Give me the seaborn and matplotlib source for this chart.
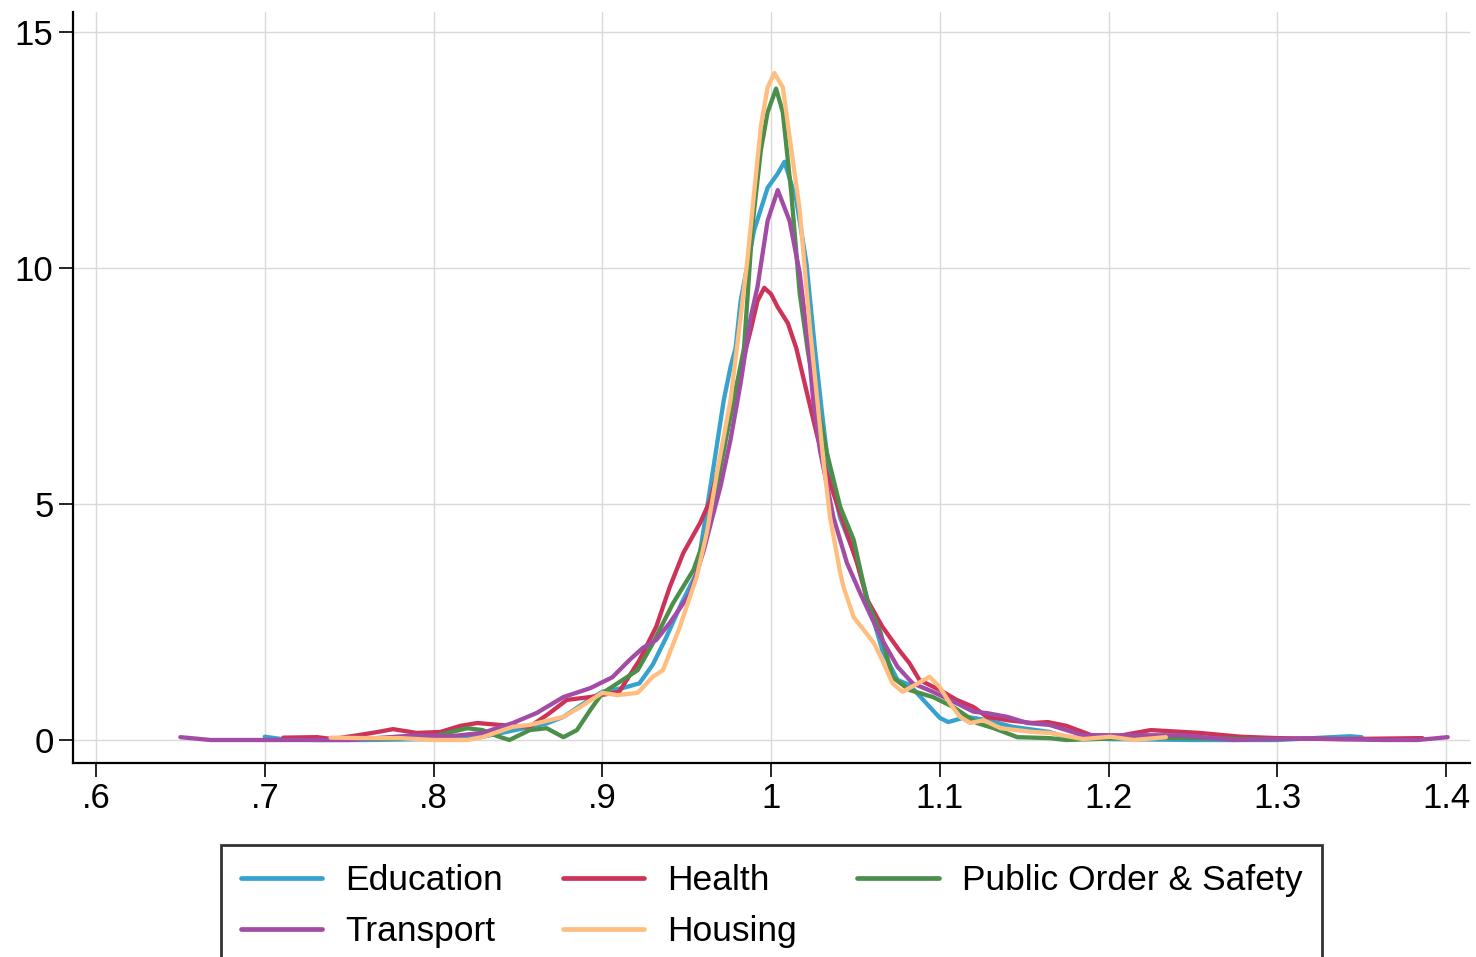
import numpy as np
import pandas as pd
import matplotlib
matplotlib.use("Agg")
import matplotlib.pyplot as plt
import seaborn as sns
from matplotlib.lines import Line2D

categories = ["Education", "Health", "Public Order & Safety", "Transport", "Housing"]

edu_x = [0.700,0.710,0.730,0.760,0.800,0.828,0.847,0.867,0.877,0.890,0.900,0.912,0.922,0.930,0.938,0.947,0.956,0.966,0.972,0.976,0.979,0.982,0.990,0.998,1.004,1.008,1.015,1.021,1.026,1.030,1.034,1.041,1.051,1.057,1.066,1.075,1.082,1.092,1.100,1.105,1.116,1.128,1.143,1.165,1.175,1.200,1.250,1.300,1.343,1.350]
edu_y = [0.07,0.02,0.0,0.0,0.02,0.06,0.2,0.35,0.49,0.8,1.02,1.1,1.2,1.6,2.18,2.9,3.54,5.8,7.2,7.9,8.3,9.3,10.8,11.7,12.0,12.25,11.44,10.1,8.3,7.0,5.8,4.7,3.8,3.0,1.9,1.27,1.17,0.78,0.47,0.38,0.49,0.42,0.28,0.17,0.06,0.02,0.0,0.0,0.08,0.06]

hea_x = [0.711,0.731,0.740,0.755,0.767,0.776,0.790,0.804,0.816,0.826,0.839,0.857,0.868,0.879,0.893,0.910,0.922,0.932,0.940,0.948,0.958,0.964,0.970,0.980,0.988,0.992,0.996,1.000,1.004,1.010,1.015,1.021,1.027,1.033,1.041,1.051,1.057,1.066,1.076,1.082,1.088,1.100,1.110,1.120,1.128,1.140,1.155,1.164,1.175,1.190,1.205,1.225,1.254,1.278,1.300,1.340,1.386]
hea_y = [0.05,0.06,0.02,0.10,0.17,0.23,0.15,0.17,0.30,0.36,0.32,0.28,0.55,0.85,0.91,1.02,1.69,2.4,3.24,3.96,4.6,5.08,5.93,7.56,8.69,9.3,9.58,9.45,9.17,8.83,8.3,7.4,6.5,5.65,4.8,3.75,2.97,2.4,1.9,1.63,1.27,1.06,0.85,0.70,0.49,0.42,0.36,0.38,0.3,0.1,0.08,0.21,0.15,0.07,0.04,0.02,0.04]

pos_x = [0.760,0.780,0.800,0.820,0.829,0.838,0.845,0.857,0.867,0.877,0.885,0.893,0.900,0.912,0.921,0.930,0.942,0.954,0.962,0.968,0.974,0.979,0.984,0.989,0.994,0.998,1.003,1.007,1.012,1.017,1.022,1.027,1.033,1.041,1.049,1.057,1.065,1.072,1.082,1.096,1.108,1.122,1.132,1.146,1.165,1.175,1.200,1.220,1.254,1.280,1.300]
pos_y = [0.02,0.03,0.08,0.25,0.21,0.08,0.0,0.21,0.25,0.06,0.21,0.64,0.99,1.27,1.48,2.05,2.9,3.6,4.4,5.4,6.5,7.4,8.3,10.9,12.5,13.3,13.8,13.3,11.6,9.47,8.2,7.2,6.1,4.94,4.24,2.95,2.27,1.33,1.06,0.91,0.7,0.36,0.25,0.06,0.04,0.0,0.03,0.05,0.04,0.02,0.02]

tra_x = [0.650,0.668,0.700,0.750,0.790,0.810,0.829,0.847,0.861,0.877,0.893,0.906,0.916,0.924,0.932,0.940,0.952,0.960,0.970,0.976,0.982,0.988,0.992,0.998,1.004,1.011,1.017,1.022,1.025,1.029,1.037,1.045,1.053,1.065,1.075,1.084,1.096,1.106,1.120,1.128,1.140,1.152,1.165,1.185,1.215,1.244,1.274,1.314,1.363,1.383,1.401]
tra_y = [0.06,0.0,0.0,0.0,0.1,0.08,0.15,0.36,0.57,0.91,1.1,1.33,1.69,1.95,2.12,2.48,3.1,4.0,5.36,6.36,7.56,8.96,9.6,11.0,11.65,11.0,9.9,8.4,7.2,6.14,4.72,3.75,3.1,2.18,1.55,1.2,1.02,0.85,0.6,0.57,0.49,0.36,0.32,0.1,0.1,0.1,0.0,0.03,0.0,0.0,0.06]

hou_x = [0.739,0.760,0.780,0.800,0.820,0.829,0.847,0.857,0.877,0.887,0.900,0.909,0.921,0.930,0.936,0.946,0.956,0.962,0.968,0.976,0.982,0.986,0.990,0.994,0.998,1.002,1.007,1.011,1.017,1.023,1.028,1.031,1.035,1.041,1.043,1.049,1.055,1.061,1.066,1.072,1.078,1.087,1.094,1.100,1.106,1.112,1.118,1.126,1.136,1.155,1.165,1.185,1.201,1.215,1.234]
hou_y = [0.05,0.04,0.04,0.0,0.0,0.06,0.28,0.32,0.49,0.7,1.0,0.95,1.0,1.34,1.48,2.4,3.46,4.4,5.66,7.2,8.96,10.17,11.6,13.0,13.83,14.13,13.83,12.78,11.23,8.75,7.0,5.93,4.72,3.54,3.24,2.6,2.33,2.05,1.69,1.2,1.02,1.2,1.34,1.12,0.78,0.49,0.36,0.42,0.25,0.17,0.15,0.02,0.07,0.0,0.06]

x_ticks = [0.6, 0.7, 0.8, 0.9, 1.0, 1.1, 1.2, 1.3, 1.4]
x_tick_labels = [".6", ".7", ".8", ".9", "1", "1.1", "1.2", "1.3", "1.4"]
y_ticks = [0, 5, 10, 15]

colors = {"Education": "#36a2cd", "Health": "#cd3358", "Public Order & Safety": "#4b8f4b",
          "Transport": "#a24ca6", "Housing": "#ffbe7f"}

frames = []
for name, xs, ys in [("Education", edu_x, edu_y), ("Health", hea_x, hea_y),
                     ("Public Order & Safety", pos_x, pos_y), ("Transport", tra_x, tra_y),
                     ("Housing", hou_x, hou_y)]:
    frames.append(pd.DataFrame({"x": xs, "density": ys, "group": name}))
df = pd.concat(frames, ignore_index=True)

sns.set_theme(style="white")
plt.rcParams["font.family"] = ["Liberation Sans", "DejaVu Sans"]
plt.rcParams["text.color"] = "black"

fig = plt.figure(figsize=(14.76, 9.57), dpi=100)
ax = fig.add_axes([73/1476, 1-763/957, (1470-73)/1476, (763-12)/957])

sns.lineplot(data=df, x="x", y="density", hue="group", hue_order=categories,
             palette=colors, estimator=None, sort=False, units="group",
             linewidth=3.1, ax=ax, legend=False)

ax.set_xlim(0.6 - 23/1687.5, 1.4 + 24/1687.5)
ax.set_ylim(-23/47.2, 15 + 20/47.2)
ax.set_xticks(x_ticks)
ax.set_xticklabels(x_tick_labels)
ax.set_yticks(y_ticks)
ax.set_xlabel("")
ax.set_ylabel("")
ax.grid(True, color="#d9d9d9", linewidth=1.0)
ax.set_axisbelow(True)
for s in ["top", "right"]:
    ax.spines[s].set_visible(False)
for s in ["left", "bottom"]:
    ax.spines[s].set_color("black")
    ax.spines[s].set_linewidth(1.6)
ax.tick_params(axis="both", which="major", direction="out", length=10, width=1.2,
               color="black", labelsize=25, labelcolor="black", pad=4,
               left=True, bottom=True)

leg_order = ["Education", "Transport", "Health", "Housing", "Public Order & Safety"]
handles = [Line2D([0], [0], color=colors[c], linewidth=3.4) for c in leg_order]
leg = fig.legend(handles, leg_order, loc="upper center", ncol=3,
                 bbox_to_anchor=(771.5/1476, 1-845/957), fontsize=25.5,
                 frameon=True, fancybox=False, edgecolor="black",
                 handlelength=2.3, handletextpad=0.65, columnspacing=1.7,
                 labelspacing=0.5, borderpad=0.55, borderaxespad=0)
leg.get_frame().set_linewidth(2.0)
for t in leg.get_texts():
    t.set_color("black")

fig.savefig("out.png", dpi=100, facecolor="white")
